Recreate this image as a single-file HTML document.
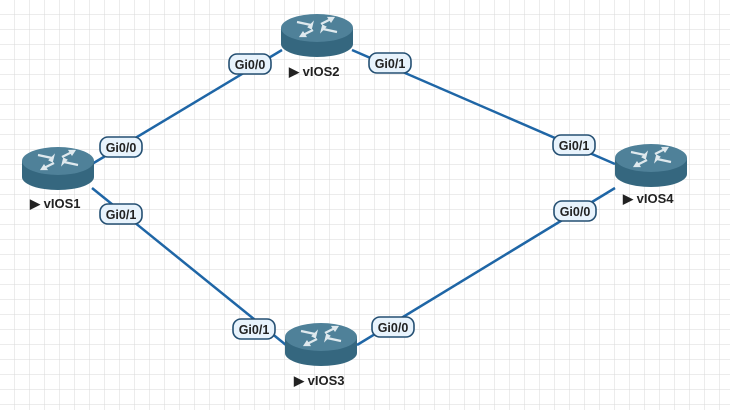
<!DOCTYPE html>
<html><head><meta charset="utf-8"><style>
html,body{margin:0;padding:0;background:#fff}
svg{display:block}
text{font-family:"Liberation Sans",Arial,sans-serif;font-weight:bold}
</style></head><body>
<svg width="730" height="410" xmlns="http://www.w3.org/2000/svg">
<defs>
<pattern id="g" width="15" height="15" patternUnits="userSpaceOnUse">
<path d="M15 0V15M0 15H15" fill="none" stroke="#dadada" stroke-width="1"/>
</pattern>
<g id="r">
<path d="M-36 14 V30 A36 13 0 0 0 36 30 V14 Z" fill="#35677f"/>
<ellipse cx="0" cy="14" rx="36" ry="14" fill="#4f8199"/>
<g stroke="#dfe9ee" stroke-width="2.2" fill="#dfe9ee">
<path d="M-20 8 L-6 11"/><path d="M-8 13 l3 -3 l-1 4z"/>
<path d="M20 18 L6 15"/><path d="M8 13 l-3 3 l1 -4z"/>
<path d="M14 5 L4 10"/><path d="M12 4 l4 0 l-2 3z"/>
<path d="M-14 21 L-4 16"/><path d="M-12 22 l-4 0 l2 -3z"/>
</g>
</g>
<g id="l">
<rect x="-21" y="-10" width="42" height="20" rx="8" fill="#e8f3fc" stroke="#244f72" stroke-width="1.6"/>
</g>
</defs>
<rect width="730" height="410" fill="url(#g)"/>
<g stroke="#1f66a6" stroke-width="2.5">
<line x1="92" y1="164" x2="282" y2="50"/>
<line x1="352" y1="50" x2="615" y2="164"/>
<line x1="92" y1="188" x2="286" y2="345"/>
<line x1="357" y1="345" x2="615" y2="188"/>
</g>
<use href="#r" x="58" y="147"/>
<use href="#r" x="317" y="14"/>
<use href="#r" x="321" y="323"/>
<use href="#r" x="651" y="144"/>
<g font-size="13" fill="#222">
<text x="30" y="208">▶ vIOS1</text>
<text x="289" y="76">▶ vIOS2</text>
<text x="294" y="385">▶ vIOS3</text>
<text x="623" y="203">▶ vIOS4</text>
</g>
<g font-size="12.5" fill="#222" text-anchor="middle">
<use href="#l" x="121" y="147"/><text x="121" y="152">Gi0/0</text>
<use href="#l" x="250" y="64"/><text x="250" y="69">Gi0/0</text>
<use href="#l" x="390" y="63"/><text x="390" y="68">Gi0/1</text>
<use href="#l" x="574" y="145"/><text x="574" y="150">Gi0/1</text>
<use href="#l" x="121" y="214"/><text x="121" y="219">Gi0/1</text>
<use href="#l" x="254" y="329"/><text x="254" y="334">Gi0/1</text>
<use href="#l" x="393" y="327"/><text x="393" y="332">Gi0/0</text>
<use href="#l" x="575" y="211"/><text x="575" y="216">Gi0/0</text>
</g>
</svg>
</body></html>
